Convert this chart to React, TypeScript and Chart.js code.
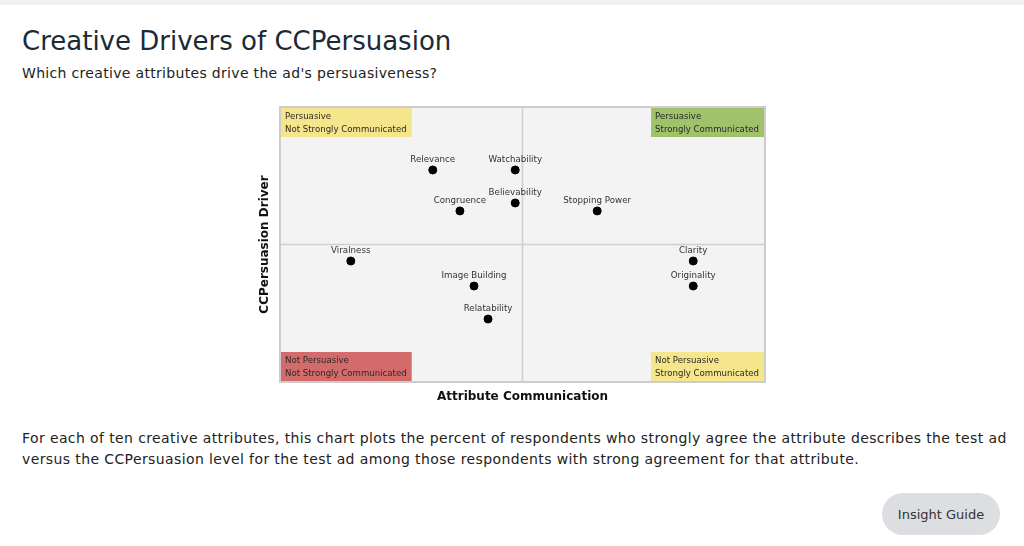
import React, { useEffect, useRef } from "react";
import { Chart, registerables } from "chart.js";

Chart.register(...registerables);

const attributes = [
  "Relevance",
  "Watchability",
  "Believability",
  "Congruence",
  "Stopping Power",
  "Viralness",
  "Image Building",
  "Relatability",
  "Clarity",
  "Originality",
];
const communication = [31.5, 48.5, 48.5, 37.1, 65.4, 14.6, 40.0, 42.9, 85.2, 85.2];
const persuasion = [77.1, 77.1, 65.1, 62.2, 62.2, 44.0, 34.9, 22.9, 44.0, 34.9];
const quadrantLabels = [
  ["Persuasive", "Not Strongly Communicated"],
  ["Persuasive", "Strongly Communicated"],
  ["Not Persuasive", "Not Strongly Communicated"],
  ["Not Persuasive", "Strongly Communicated"],
];
const quadrantColors = ["#f5e68b", "#9fc26b", "#d46b6b", "#f5e68b"];
const xTitle = "Attribute Communication";
const yTitle = "CCPersuasion Driver";

const FONT = "'DejaVu Sans', sans-serif";

const quadPlugin = {
  id: "quad",
  beforeDatasetsDraw(chart: any) {
    const { ctx, chartArea: a, scales } = chart;
    const xs = scales.x;
    const ys = scales.y;
    ctx.save();
    ctx.fillStyle = "#f2f3f2";
    ctx.fillRect(a.left, a.top, a.right - a.left, a.bottom - a.top);
    const mx = xs.getPixelForValue(50);
    const my = ys.getPixelForValue(50);
    ctx.strokeStyle = "#cfcfcf";
    ctx.lineWidth = 1.5;
    ctx.beginPath();
    ctx.moveTo(mx, a.top);
    ctx.lineTo(mx, a.bottom);
    ctx.moveTo(a.left, my);
    ctx.lineTo(a.right, my);
    ctx.stroke();
    ctx.font = `8.6px ${FONT}`;
    ctx.textBaseline = "middle";
    const bh = 29;
    quadrantLabels.forEach((lines, i) => {
      const w = Math.max(...lines.map((l) => ctx.measureText(l).width)) + 9;
      const left = i % 2 === 0 ? a.left + 1 : a.right - 1 - w;
      const top = i < 2 ? a.top + 1 : a.bottom - 1 - bh;
      ctx.fillStyle = quadrantColors[i];
      ctx.fillRect(left, top, w, bh);
      ctx.fillStyle = "#2a2a2a";
      ctx.textAlign = "left";
      ctx.fillText(lines[0], left + 4, top + 9);
      ctx.fillText(lines[1], left + 4, top + 21.5);
    });
    ctx.strokeStyle = "#cdcdcd";
    ctx.lineWidth = 2;
    ctx.strokeRect(a.left, a.top, a.right - a.left, a.bottom - a.top);
    ctx.fillStyle = "#111";
    ctx.font = `bold 12px ${FONT}`;
    ctx.textAlign = "center";
    ctx.textBaseline = "middle";
    ctx.fillText(xTitle, (a.left + a.right) / 2, a.bottom + 15);
    ctx.translate(a.left - 15, (a.top + a.bottom) / 2);
    ctx.rotate(-Math.PI / 2);
    ctx.fillText(yTitle, 0, 0);
    ctx.restore();
  },
  afterDatasetsDraw(chart: any) {
    const { ctx } = chart;
    const meta = chart.getDatasetMeta(0);
    ctx.save();
    ctx.font = `8.7px ${FONT}`;
    ctx.fillStyle = "#333";
    ctx.textAlign = "center";
    ctx.textBaseline = "middle";
    meta.data.forEach((pt: any, i: number) => {
      ctx.fillText(attributes[i], pt.x, pt.y - 10.5);
    });
    ctx.restore();
  },
};

function QuadrantChart() {
  const ref = useRef<HTMLCanvasElement>(null);
  useEffect(() => {
    if (!ref.current) return;
    const chart = new Chart(ref.current, {
      type: "scatter",
      data: {
        datasets: [
          {
            data: communication.map((x, i) => ({ x, y: persuasion[i] })),
            backgroundColor: "#000",
            borderColor: "#000",
            pointRadius: 4,
            pointHoverRadius: 4,
          },
        ],
      },
      options: {
        responsive: false,
        animation: false,
        layout: { padding: { left: 30, right: 15, top: 7, bottom: 28 } },
        plugins: { legend: { display: false }, tooltip: { enabled: false } },
        scales: {
          x: { type: "linear", min: 0, max: 100, display: false },
          y: { type: "linear", min: 0, max: 100, display: false },
        },
      },
      plugins: [quadPlugin],
    });
    return () => chart.destroy();
  }, []);
  return (
    <canvas
      ref={ref}
      width={530}
      height={310}
      style={{ position: "absolute", left: 250, top: 100, width: 530, height: 310 }}
    />
  );
}

export default function App() {
  return (
    <div
      style={{
        position: "fixed",
        left: 0,
        top: 0,
        width: 1024,
        height: 546,
        background: "#fff",
        fontFamily: FONT,
        overflow: "hidden",
      }}
    >
      <div style={{ position: "absolute", left: 0, top: 0, width: 1024, height: 5, background: "#f1f1f1" }} />
      <div
        style={{
          position: "absolute",
          left: 22,
          top: 23,
          fontSize: 26,
          color: "#1c2a35",
          whiteSpace: "nowrap",
          lineHeight: "36px",
        }}
      >
        Creative Drivers of CCPersuasion
      </div>
      <div
        style={{
          position: "absolute",
          left: 22,
          top: 63,
          fontSize: 14,
          letterSpacing: 0.32,
          color: "#222",
          whiteSpace: "nowrap",
          lineHeight: "20px",
        }}
      >
        Which creative attributes drive the ad's persuasiveness?
      </div>
      <QuadrantChart />
      <div
        style={{
          position: "absolute",
          left: 22,
          top: 428,
          fontSize: 14,
          letterSpacing: 0.39,
          color: "#222",
          whiteSpace: "nowrap",
          lineHeight: "21px",
        }}
      >
        For each of ten creative attributes, this chart plots the percent of respondents who strongly agree the attribute describes the test ad
        <br />
        versus the CCPersuasion level for the test ad among those respondents with strong agreement for that attribute.
      </div>
      <div
        style={{
          position: "absolute",
          left: 882,
          top: 493,
          width: 118,
          height: 42,
          borderRadius: 21,
          background: "#dcdee1",
          color: "#333",
          fontSize: 13,
          display: "flex",
          alignItems: "center",
          justifyContent: "center",
        }}
      >
        Insight Guide
      </div>
    </div>
  );
}
